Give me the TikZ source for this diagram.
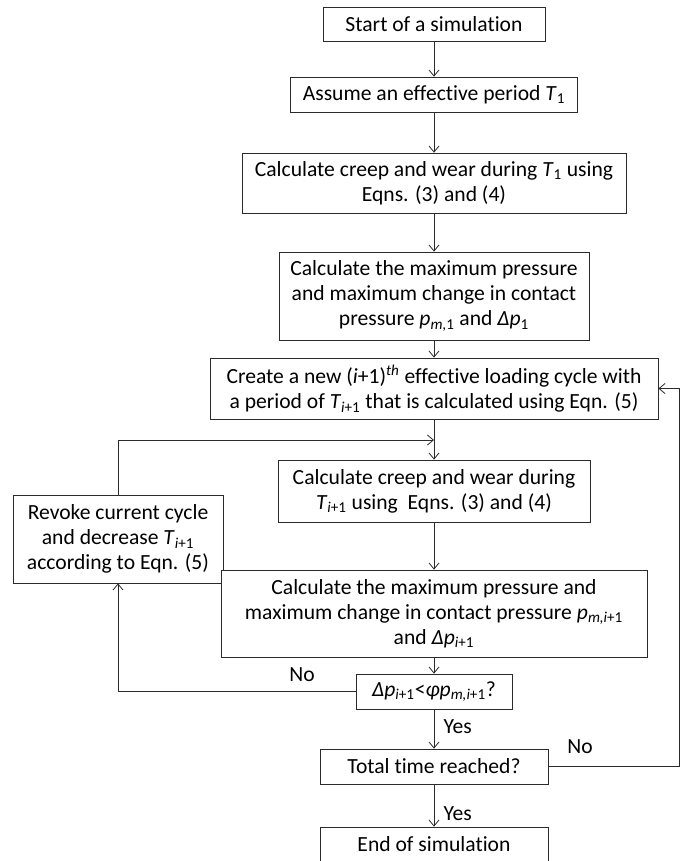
\documentclass[tikz,border=0pt]{standalone}
\usepackage{fontspec}
\setmainfont{Carlito}[Ligatures=CommonOff]
\usepackage{tikz}
\usetikzlibrary{positioning,arrows.meta,calc}
\definecolor{ink}{HTML}{2B2B2B}
\tikzset{
  stepbox/.style={draw=ink, fill=white, line width=0.6pt, align=center,
                  font=\fontsize{16.2}{18.8}\selectfont, inner sep=2pt},
  ar/.style={-{Straight Barb[length=4.5pt,width=7.5pt]}, line width=0.6pt, color=ink},
  lbl/.style={font=\fontsize{16.2}{18}\selectfont, text=black, inner sep=1pt},
}
\newcommand{\vs}[2]{\textit{#1}\textsubscript{#2}}

\begin{document}
\begin{tikzpicture}[x=0.75pt, y=-0.75pt]
\useasboundingbox (0,0) rectangle (684,861);

\node[stepbox, minimum width=222*0.75pt, minimum height=34*0.75pt] (start) at (434,24) {Start of a simulation};
\node[stepbox, minimum width=287*0.75pt, minimum height=35*0.75pt] (assume) at (434,94.5) {Assume an effective period \vs{T}{1}};
\node[stepbox, minimum width=384*0.75pt, minimum height=60*0.75pt] (creep1) at (434,183) {Calculate creep and wear during \vs{T}{1} using\\Eqns. (3) and (4)};
\node[stepbox, minimum width=310*0.75pt, minimum height=88*0.75pt] (press1) at (434,296) {Calculate the maximum pressure\\and maximum change in contact\\pressure \vs{p}{\textit{m},1} and \vs{Δp}{1}};
\node[stepbox, minimum width=448*0.75pt, minimum height=61*0.75pt] (newcyc) at (434,388.5) {Create a new (\textit{i}+1)\textsuperscript{\textit{th}} effective loading cycle with\\a period of \vs{T}{\textit{i}+1} that is calculated using Eqn. (5)};
\node[stepbox, minimum width=312*0.75pt, minimum height=62*0.75pt] (creep2) at (434,491) {Calculate creep and wear during\\\vs{T}{\textit{i}+1} using~ Eqns. (3) and (4)};
\node[stepbox, minimum width=210*0.75pt, minimum height=88*0.75pt] (revoke) at (118,539) {Revoke current cycle\\and decrease \vs{T}{\textit{i}+1}\\according to Eqn. (5)};
\node[stepbox, minimum width=426*0.75pt, minimum height=87*0.75pt] (press2) at (434,613.5) {Calculate the maximum pressure and\\maximum change in contact pressure \vs{p}{\textit{m,i}+1}\\and \vs{Δp}{\textit{i}+1}};
\node[stepbox, minimum width=156*0.75pt, minimum height=35*0.75pt] (check) at (434,691.5) {\vs{Δp}{\textit{i}+1}<\vs{φp}{\textit{m,i}+1}?};
\node[stepbox, minimum width=228*0.75pt, minimum height=35*0.75pt] (total) at (434,766.5) {Total time reached?};
\node[stepbox, minimum width=228*0.75pt, minimum height=35*0.75pt] (finish) at (434,844.5) {End of simulation};

\coordinate (back) at (434,440);
\coordinate (rgt) at (679,766.5);

\draw[ar] (start) -- (assume);
\draw[ar] (assume) -- (creep1);
\draw[ar] (creep1) -- (press1);
\draw[ar] (press1) -- (newcyc);
\draw[ar] (newcyc) -- (creep2);
\draw[ar] (creep2) -- (press2);
\draw[ar] (press2) -- (check);
\draw[ar] (check) -- node[lbl, right=6pt, pos=0.45] {Yes} (total);
\draw[ar] (total) -- node[lbl, right=6pt, pos=0.7] {Yes} (finish);

\draw[ar] (revoke.north) |- (back);
\draw[ar] (check.west) -| (revoke.south);
\draw[ar] (total.east) -- (rgt) |- (newcyc.east);

\node[lbl] (nol) at (302,675) {No};
\node[lbl] (nor) at (580,747) {No};

\end{tikzpicture}
\end{document}
